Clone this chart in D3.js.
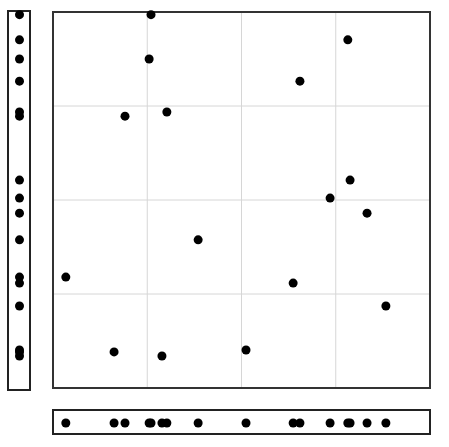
<!DOCTYPE html>
<html><head><meta charset="utf-8">
<script src="https://cdn.jsdelivr.net/npm/d3@7"></script>
<style>html,body{margin:0;padding:0;background:#fff;}svg{display:block;}</style>
</head><body>
<script>
const xValues = [26.0, 25.5, 19.1, 30.2, 78.2, 65.5, 78.8, 73.5, 83.3, 38.5, 63.7, 3.4, 88.3, 16.2, 28.9, 51.2];
const yValues = [99.3, 87.5, 72.3, 73.4, 92.6, 81.6, 55.3, 50.5, 46.5, 39.4, 27.9, 29.5, 21.8, 9.6, 8.5, 10.1];
const gridTicks = [25, 50, 75];

const W = 449, H = 447;
const svg = d3.select("body").append("svg").attr("width", W).attr("height", H);

const x = d3.scaleLinear().domain([0, 100]).range([53, 430]);
const y = d3.scaleLinear().domain([0, 100]).range([388, 12]);
const pts = xValues.map((v, i) => ({x: v, y: yValues[i]}));

// grid
svg.append("g").selectAll("line.gx").data(gridTicks).join("line")
  .attr("x1", d => x(d)).attr("x2", d => x(d)).attr("y1", y(100)).attr("y2", y(0))
  .attr("stroke", "#d6d6d6").attr("stroke-width", 1);
svg.append("g").selectAll("line.gy").data(gridTicks).join("line")
  .attr("y1", d => y(d)).attr("y2", d => y(d)).attr("x1", x(0)).attr("x2", x(100))
  .attr("stroke", "#d6d6d6").attr("stroke-width", 1);

// main frame
svg.append("rect").attr("x", x(0)).attr("y", y(100)).attr("width", x(100) - x(0)).attr("height", y(0) - y(100))
  .attr("fill", "none").attr("stroke", "#333").attr("stroke-width", 2);

// points
svg.append("g").selectAll("circle").data(pts).join("circle")
  .attr("cx", d => x(d.x)).attr("cy", d => y(d.y)).attr("r", 4.5).attr("fill", "#000");

// left rug strip
svg.append("rect").attr("x", 8).attr("y", 11).attr("width", 22).attr("height", 379)
  .attr("fill", "none").attr("stroke", "#222").attr("stroke-width", 2);
svg.append("g").selectAll("circle").data(pts).join("circle")
  .attr("cx", 19.5).attr("cy", d => y(d.y)).attr("r", 4.5).attr("fill", "#000");

// bottom rug strip
svg.append("rect").attr("x", x(0)).attr("y", 410).attr("width", x(100) - x(0)).attr("height", 24)
  .attr("fill", "none").attr("stroke", "#222").attr("stroke-width", 2);
svg.append("g").selectAll("circle").data(pts).join("circle")
  .attr("cx", d => x(d.x)).attr("cy", 423).attr("r", 4.5).attr("fill", "#000");
</script>
</body></html>
